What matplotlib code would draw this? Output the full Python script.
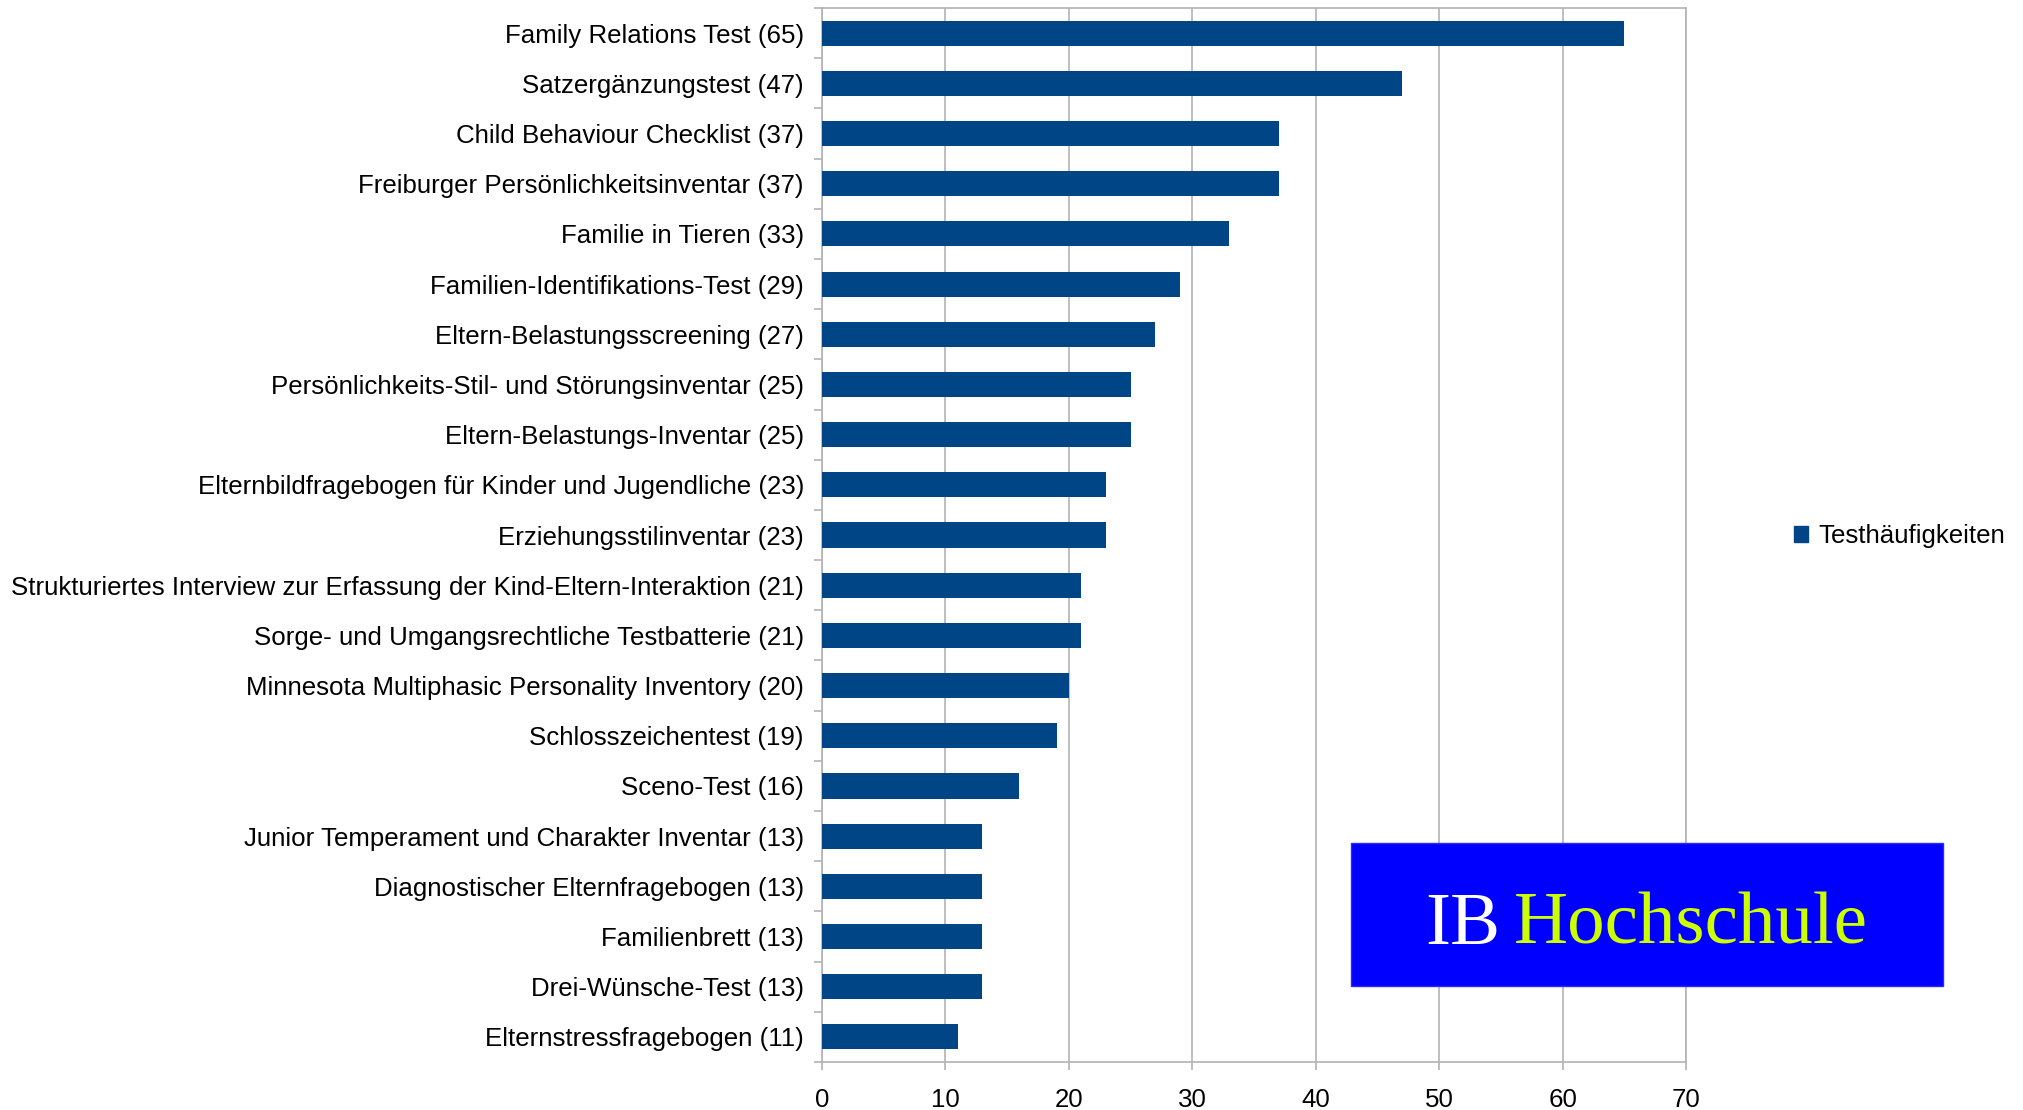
import matplotlib
matplotlib.use('Agg')
import matplotlib.pyplot as plt
from matplotlib.patches import Patch, Rectangle

plt.rcParams['font.family'] = ['Liberation Sans', 'DejaVu Sans']

# Test names and counts, top to bottom
tests = [
    'Family Relations Test',
    'Satzergänzungstest',
    'Child Behaviour Checklist',
    'Freiburger Persönlichkeitsinventar',
    'Familie in Tieren',
    'Familien-Identifikations-Test',
    'Eltern-Belastungsscreening',
    'Persönlichkeits-Stil- und Störungsinventar',
    'Eltern-Belastungs-Inventar',
    'Elternbildfragebogen für Kinder und Jugendliche',
    'Erziehungsstilinventar',
    'Strukturiertes Interview zur Erfassung der Kind-Eltern-Interaktion',
    'Sorge- und Umgangsrechtliche Testbatterie',
    'Minnesota Multiphasic Personality Inventory',
    'Schlosszeichentest',
    'Sceno-Test',
    'Junior Temperament und Charakter Inventar',
    'Diagnostischer Elternfragebogen',
    'Familienbrett',
    'Drei-Wünsche-Test',
    'Elternstressfragebogen',
]
counts = [65, 47, 37, 37, 33, 29, 27, 25, 25, 23, 23, 21, 21, 20, 19, 16, 13, 13, 13, 13, 11]
x_ticks = [0, 10, 20, 30, 40, 50, 60, 70]

labels = [f'{t} ({c})' for t, c in zip(tests, counts)]
bar_color = '#004586'
grid_color = '#b3b3b3'
fs = 18.6

W, H = 2024, 1110
fig = plt.figure(figsize=(W / 100, H / 100), dpi=100)
ax = fig.add_axes([822 / W, 1 - 1062 / H, (1686 - 822) / W, (1062 - 8) / H])

pos = list(range(len(tests)))
ax.barh(pos, counts, height=0.5, color=bar_color, zorder=3, label='Testhäufigkeiten')
ax.set_ylim(len(tests) - 0.5, -0.5)
ax.set_xlim(0, 70)
ax.set_xticks(x_ticks)

ax.set_yticks(pos)
ax.set_yticklabels(labels, fontsize=fs)
# small outward ticks between the categories
ax.set_yticks([p + 0.5 for p in range(-1, len(tests))], minor=True)
ax.tick_params(axis='y', which='major', length=0, pad=13)
ax.tick_params(axis='y', which='minor', length=6, color=grid_color, width=1.2)
ax.tick_params(axis='x', length=6, color=grid_color, width=1.2, labelsize=fs, pad=13)

ax.xaxis.grid(True, color=grid_color, linewidth=1.2, zorder=0)
for s in ax.spines.values():
    s.set_color(grid_color)
    s.set_linewidth(1.2)

# legend on the right
handle = Patch(facecolor=bar_color, edgecolor=bar_color)
fig.legend([handle], ['Testhäufigkeiten'], loc='center left',
           bbox_to_anchor=(1794 / W, 1 - 536 / H), frameon=False,
           fontsize=fs, handlelength=0.55, handleheight=0.55,
           handletextpad=0.4, borderpad=0, borderaxespad=0)

# IB Hochschule logo box
fig.patches.append(Rectangle((1351 / W, 1 - 986 / H), (1943 - 1351) / W, (986 - 843) / H,
                             transform=fig.transFigure, facecolor='#0000ff',
                             edgecolor='#2a2aff', linewidth=1, zorder=5))
fig.text(1425 / W, 1 - 944 / H, 'IB', family='Liberation Serif', fontsize=54,
         color='white', ha='left', va='baseline', zorder=6)
fig.text(1514 / W, 1 - 944 / H, 'Hochschule', family='Liberation Serif', fontsize=54,
         color='#ccff00', ha='left', va='baseline', zorder=6)

fig.savefig('out.png', dpi=100)
